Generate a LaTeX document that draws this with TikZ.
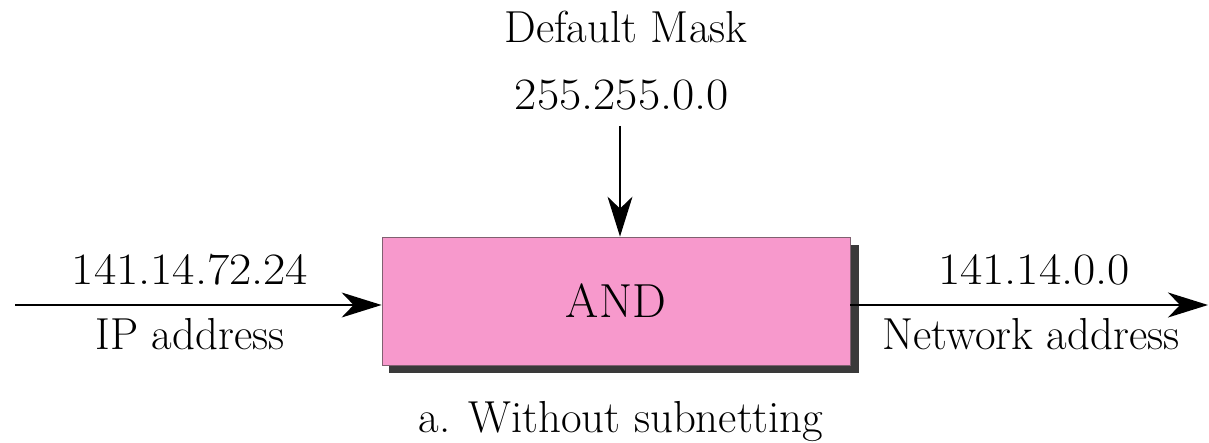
\documentclass[tikz,border=0pt]{standalone}
\usetikzlibrary{arrows.meta}
\definecolor{gatefill}{HTML}{F799CC}
\definecolor{gateedge}{HTML}{806070}
\definecolor{gateshadow}{HTML}{3A3A3A}
\begin{document}
\begin{tikzpicture}[x=1bp,y=-1bp,
  lbl/.style={anchor=base,inner sep=0pt,font=\fontsize{45}{54}\selectfont},
  num/.style={lbl,xscale=1.08,transform shape},
  flow/.style={line width=1.6bp,-{Stealth[length=40bp,width=25bp,inset=12bp]}},
  gate/.style={draw=gateedge,line width=0.8bp,fill=gatefill,minimum width=468bp,minimum height=128bp,inner sep=0pt,font=\fontsize{48}{56}\selectfont}]
  \useasboundingbox (0,0) rectangle (1209,443);
  % drop shadow of the AND gate
  \fill[gateshadow] (389,245) rectangle (859,373);
  \node[gate] (and) at (616,301) {AND};
  % labels
  \node[lbl] (mname) at (626,43) {Default Mask};
  \node[num] (mval) at (622,110) {255.255.0.0};
  \node[num] (ipval) at (190,285) {141.14.72.24};
  \node[lbl] (ipname) at (190,350) {IP address};
  \node[num] (netval) at (1034,285) {141.14.0.0};
  \node[lbl] (netname) at (1031,350) {Network address};
  \node[lbl] (cap) at (621,433) {a. Without subnetting};
  % connectors
  \coordinate (maskin) at (620,126);
  \coordinate (ipin) at (15,305);
  \coordinate (netout) at (1208,305);
  \draw[flow,line width=1.3bp] (maskin) -- (maskin |- and.north);
  \draw[flow] (ipin) -- (and.west |- ipin);
  \draw[flow] (and.east |- netout) -- (netout);
\end{tikzpicture}
\end{document}
